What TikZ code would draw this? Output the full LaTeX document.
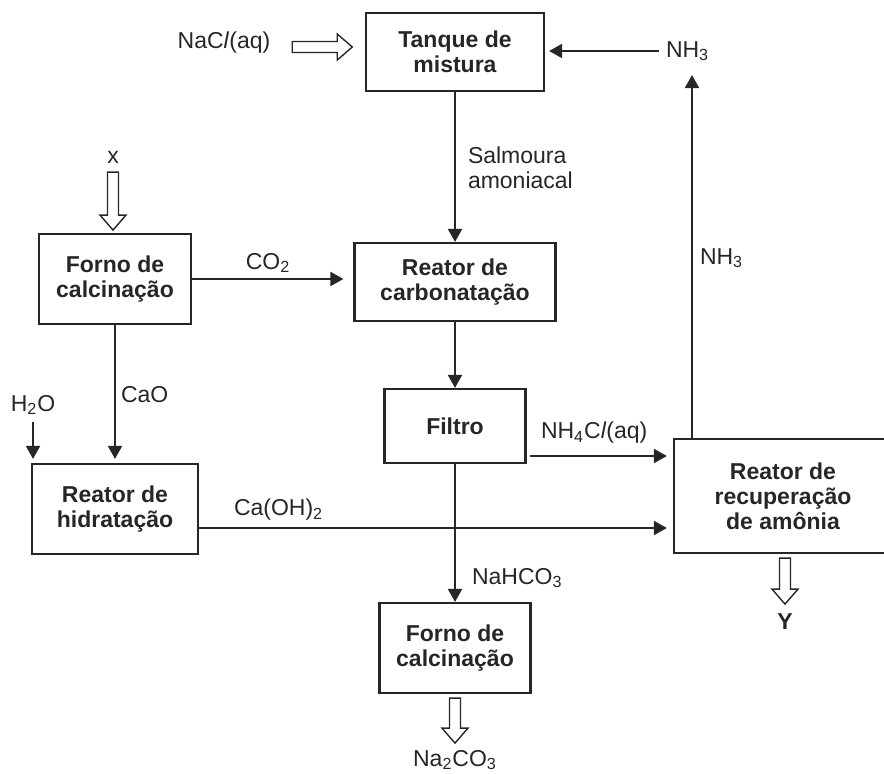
\documentclass[tikz,border=0pt]{standalone}
\usepackage{fontspec}
\setmainfont{Liberation Sans}
\usepackage{xcolor}
\usetikzlibrary{arrows.meta, calc, positioning}

\definecolor{ink}{HTML}{262626}

\begin{document}
\begin{tikzpicture}[
        x=0.5pt, y=-0.5pt,
        font=\fontsize{11.5}{12.5}\selectfont,
        >={Triangle[length=6.5pt, width=7pt]},
        line width=1pt,
        draw=ink, text=ink,
        unit/.style={
            draw, rectangle,
            line width=1.1pt,
            align=center,
            inner sep=0pt,
            font=\fontsize{11.5}{12.5}\selectfont\bfseries
        },
        lbl/.style={inner sep=0pt, align=left},
        blockarrow/.pic={
            \draw[line width=0.7pt, fill=white]
                (0,-5.5) -- (#1-15,-5.5) -- (#1-15,-13) -- (#1,0)
                -- (#1-15,13) -- (#1-15,5.5) -- (0,5.5) -- cycle;
        },
    ]
    \useasboundingbox (0,0) rectangle (884,773);

    %============================================================
    % Units
    %============================================================
    \node[unit, minimum width=178*0.5pt, minimum height=78*0.5pt]  (tanque) at (455,52)  {Tanque de\\mistura};
    \node[unit, minimum width=152*0.5pt, minimum height=90*0.5pt]  (fornoA) at (115,279) {Forno de\\calcinação};
    \node[unit, minimum width=201*0.5pt, minimum height=78*0.5pt]  (carbon) at (455,282) {Reator de\\carbonatação};
    \node[unit, minimum width=141*0.5pt, minimum height=74*0.5pt]  (filtro) at (455,426) {Filtro};
    \node[unit, minimum width=166*0.5pt, minimum height=90*0.5pt]  (hidrat) at (115,509) {Reator de\\hidratação};
    \node[unit, minimum width=151*0.5pt, minimum height=90*0.5pt]  (fornoB) at (455,648) {Forno de\\calcinação};

    % ammonia recovery: box runs off the right edge
    \node[unit, minimum width=250*0.5pt, minimum height=114*0.5pt] (recup)  at (799,496) {};
    \node[unit, draw=none] (recupTxt) at (783,496) {Reator de\\recuperação\\de amônia};

    %============================================================
    % Feeds and products (hollow arrows)
    %============================================================
    \node[lbl] (nacl) at (224,43) {NaC\textit{l}(aq)};
    \pic at ($(nacl.east)+(21,4)$) {blockarrow=60};

    \node[lbl] (xin) at (113,157) {x};
    \pic[rotate=-90] at ($(xin.south)+(0,8)$) {blockarrow=58};

    \pic[rotate=-90] at ($(fornoB.south)+(0,4)$) {blockarrow=45};
    \node[lbl] (soda) at (455,760) {Na\textsubscript{2}CO\textsubscript{3}};

    \pic[rotate=-90] at ($(recupTxt |- recup.south)+(2,4)$) {blockarrow=46};
    \node[lbl, font=\fontsize{11.5}{12.5}\selectfont\bfseries] (yout) at (785,622) {Y};

    %============================================================
    % Ammonia loop
    %============================================================
    \node[lbl, anchor=west] (nh3top) at (665,51) {NH\textsubscript{3}};
    \draw[->, shorten >=2pt, shorten <=3pt] (nh3top.west) -- (nh3top.west -| tanque.east);

    \coordinate (up) at (692,75);
    \draw[->] (recup.north -| up) -- (up);
    \node[lbl, anchor=west] (nh3mid) at (699,258) {NH\textsubscript{3}};

    %============================================================
    % Main line
    %============================================================
    \draw[->] (tanque.south) -- (carbon.north);
    \node[lbl, anchor=west] (salm) at (467,168) {Salmoura\\amoniacal};

    \draw[->, shorten >=5pt] (fornoA.east) -- (fornoA.east -| carbon.west);
    \node[lbl] (co2) at (268,263) {CO\textsubscript{2}};

    \draw[->] (carbon.south) -- (filtro.north);

    \coordinate (nhcl) at (530,456);
    \draw[->, shorten >=3pt] (nhcl) -- (nhcl -| recup.west);
    \node[lbl, anchor=west] (nh4cl) at (540,433) {NH\textsubscript{4}C\textit{l}(aq)};

    \draw[->] (filtro.south) -- (fornoB.north);
    \node[lbl, anchor=west] (bicarb) at (471,578) {NaHCO\textsubscript{3}};

    %============================================================
    % Lime branch
    %============================================================
    \draw[->, shorten >=2pt] (fornoA.south) -- (hidrat.north);
    \node[lbl, anchor=west] (cao) at (120,395) {CaO};

    \node[lbl] (h2o) at (33,405) {H\textsubscript{2}O};
    \draw[->, shorten >=2pt, shorten <=3pt] (h2o.south) -- (h2o.south |- hidrat.north);

    \coordinate (lime) at (198,528);
    \draw[->, shorten >=3pt] (lime) -- (lime -| recup.west);
    \node[lbl, anchor=west] (caoh) at (233,510) {Ca(OH)\textsubscript{2}};

\end{tikzpicture}
\end{document}
